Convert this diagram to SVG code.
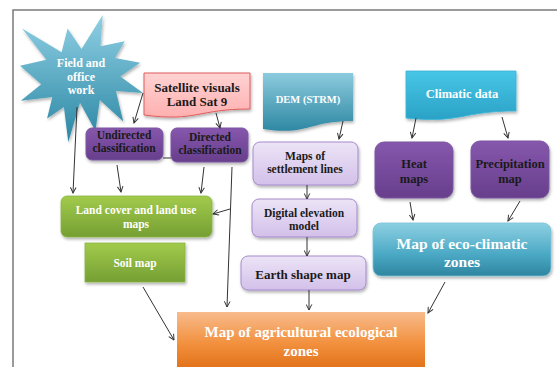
<svg xmlns="http://www.w3.org/2000/svg" width="557" height="367" viewBox="0 0 557 367">
<style>
  text { font-family: "Liberation Serif", "Times New Roman", serif; font-weight: bold; text-anchor: middle; }
  .dk { fill: #1a1a1a; }
  .wt { fill: #ffffff; }
  .conn line, .conn path { stroke: #333333; stroke-width: 1; fill: none; }
  .arr { marker-end: url(#ah); }
</style>
<defs>
  <marker id="ah" viewBox="0 0 10 10" refX="9" refY="5" markerWidth="7" markerHeight="7" orient="auto" markerUnits="userSpaceOnUse">
    <path d="M1,1 L9,5 L1,9" fill="none" stroke="#333333" stroke-width="1.4"/>
  </marker>
  <filter id="sh" x="-10%" y="-10%" width="125%" height="130%">
    <feDropShadow dx="1" dy="2" stdDeviation="1.5" flood-color="#000" flood-opacity="0.3"/>
  </filter>
  <linearGradient id="gStar" x1="0" y1="0" x2="0" y2="1">
    <stop offset="0" stop-color="#8fd0e4"/>
    <stop offset="1" stop-color="#2b86a3"/>
  </linearGradient>
  <linearGradient id="gPink" x1="0" y1="0" x2="0" y2="1">
    <stop offset="0" stop-color="#ffd2d2"/>
    <stop offset="1" stop-color="#ffb0b0"/>
  </linearGradient>
  <linearGradient id="gPurple" x1="0" y1="0" x2="0" y2="1">
    <stop offset="0" stop-color="#8657ad"/>
    <stop offset="1" stop-color="#673e8c"/>
  </linearGradient>
  <linearGradient id="gLav" x1="0" y1="0" x2="0" y2="1">
    <stop offset="0" stop-color="#ece4f6"/>
    <stop offset="1" stop-color="#d3c0ea"/>
  </linearGradient>
  <linearGradient id="gDem" x1="0" y1="0" x2="0" y2="1">
    <stop offset="0" stop-color="#8ccbde"/>
    <stop offset="1" stop-color="#2e88a3"/>
  </linearGradient>
  <linearGradient id="gClim" x1="0" y1="0" x2="0" y2="1">
    <stop offset="0" stop-color="#48c6e6"/>
    <stop offset="1" stop-color="#2aa2c6"/>
  </linearGradient>
  <linearGradient id="gGreen" x1="0" y1="0" x2="0" y2="1">
    <stop offset="0" stop-color="#a2cb4c"/>
    <stop offset="1" stop-color="#759f33"/>
  </linearGradient>
  <linearGradient id="gEco" x1="0" y1="0" x2="0" y2="1">
    <stop offset="0" stop-color="#8dd0e2"/>
    <stop offset="0.6" stop-color="#4aa8c4"/>
    <stop offset="1" stop-color="#2f859f"/>
  </linearGradient>
  <linearGradient id="gOrange" x1="0" y1="0" x2="0" y2="1">
    <stop offset="0" stop-color="#f8bb8c"/>
    <stop offset="0.5" stop-color="#f2913f"/>
    <stop offset="1" stop-color="#de6a10"/>
  </linearGradient>
</defs>

<rect width="557" height="367" fill="#ffffff"/>
<path d="M13,367 V10 H557" fill="none" stroke="#7a7a7a" stroke-width="1.5"/>

<g id="node-field">
  <polygon points="81.5,49.1 102.7,15 100.6,46.3 124.7,41.2 115.1,58 140.1,62.8 120.3,76.6 143,93.1 115.9,91.1 123.3,121.4 99.8,100 95.4,131 80,102.8 68.3,142 63.9,106.9 47.1,118.6 52.3,96.9 20.8,100.8 41.2,84.2 20,65.7 46.3,59.8 22.1,28.5 61.6,52.2 67.6,28.5" fill="url(#gStar)" filter="url(#sh)"/>
  <text class="wt" x="81" y="67" font-size="12">Field and</text>
  <text class="wt" x="81" y="81" font-size="12">office</text>
  <text class="wt" x="81" y="94" font-size="12">work</text>
</g>

<g id="node-satellite">
  <path d="M144,73 H250 V109 C197,109 197,122 144,115 Z" fill="url(#gPink)" stroke="#e05c5c" stroke-width="1" filter="url(#sh)"/>
  <text class="dk" x="197" y="91.5" font-size="13">Satellite visuals</text>
  <text class="dk" x="197" y="105.5" font-size="13">Land Sat 9</text>
</g>

<g id="node-undirected">
  <rect x="86" y="128" width="77" height="32" rx="6" fill="url(#gPurple)" stroke="#7a56a0" filter="url(#sh)"/>
  <text class="dk" x="124" y="139" font-size="11.5">Undirected</text>
  <text class="dk" x="124" y="152" font-size="11.5">classification</text>
</g>

<g id="node-directed">
  <rect x="171" y="128" width="77" height="34" rx="6" fill="url(#gPurple)" stroke="#7a56a0" filter="url(#sh)"/>
  <text class="dk" x="210" y="141" font-size="11.5">Directed</text>
  <text class="dk" x="210" y="154" font-size="11.5">classification</text>
</g>

<g id="node-dem">
  <path d="M263,73 H353 V121 C308,121 308,136 263,129 Z" fill="url(#gDem)" filter="url(#sh)"/>
  <text class="wt" x="308" y="102.5" font-size="10.5">DEM (STRM)</text>
</g>

<g id="node-climatic">
  <path d="M406,71 H516 V111 C461,111 461,124 406,118 Z" fill="url(#gClim)" stroke="#3ab4d8" stroke-width="0.8" filter="url(#sh)"/>
  <text class="wt" x="462" y="97.5" font-size="12.5">Climatic data</text>
</g>

<g id="node-settlement">
  <rect x="253" y="142" width="105" height="43" rx="7" fill="url(#gLav)" stroke="#a58acb" filter="url(#sh)"/>
  <text class="dk" x="305" y="160" font-size="11.5">Maps of</text>
  <text class="dk" x="305" y="173" font-size="11.5">settlement lines</text>
</g>

<g id="node-elevation">
  <rect x="252" y="199" width="105" height="38" rx="7" fill="url(#gLav)" stroke="#a58acb" filter="url(#sh)"/>
  <text class="dk" x="304" y="217" font-size="11.5">Digital elevation</text>
  <text class="dk" x="304" y="230" font-size="11.5">model</text>
</g>

<g id="node-earth">
  <rect x="241" y="256" width="125" height="34" rx="7" fill="url(#gLav)" stroke="#a58acb" filter="url(#sh)"/>
  <text class="dk" x="303" y="278.5" font-size="13">Earth shape map</text>
</g>

<g id="node-heat">
  <rect x="375" y="142" width="78" height="56" rx="9" fill="url(#gPurple)" stroke="#7a56a0" filter="url(#sh)"/>
  <text class="dk" x="414" y="167.5" font-size="12.5">Heat</text>
  <text class="dk" x="414" y="182.5" font-size="12.5">maps</text>
</g>

<g id="node-precip">
  <rect x="471" y="141" width="78" height="57" rx="9" fill="url(#gPurple)" stroke="#7a56a0" filter="url(#sh)"/>
  <text class="dk" x="510" y="167.5" font-size="12.5">Precipitation</text>
  <text class="dk" x="510" y="182.5" font-size="12.5">map</text>
</g>

<g id="node-landcover">
  <rect x="61" y="196" width="151" height="41" rx="6" fill="url(#gGreen)" stroke="#8ab544" stroke-width="0.8" filter="url(#sh)"/>
  <text class="wt" x="136" y="214" font-size="11.5">Land cover and land use</text>
  <text class="wt" x="136" y="228" font-size="11.5">maps</text>
</g>

<g id="node-soil">
  <rect x="85" y="243" width="100" height="39" fill="url(#gGreen)" stroke="#8ab544" stroke-width="0.8" filter="url(#sh)"/>
  <text class="wt" x="135" y="267" font-size="11.5">Soil map</text>
</g>

<g id="node-eco">
  <rect x="373" y="223" width="178" height="53" rx="8" fill="url(#gEco)" stroke="#7cc3d8" stroke-width="0.8" filter="url(#sh)"/>
  <text class="wt" x="462" y="248.5" font-size="15.5">Map of eco-climatic</text>
  <text class="wt" x="462" y="266.5" font-size="15.5">zones</text>
</g>

<g id="node-agri">
  <rect x="177" y="312" width="248" height="62" fill="url(#gOrange)"/>
  <text class="wt" x="301" y="337" font-size="15">Map of agricultural ecological</text>
  <text class="wt" x="301" y="356" font-size="15">zones</text>
</g>

<g id="connectors" class="conn">
  <line class="arr" x1="77" y1="107" x2="73" y2="193"/>
  <line class="arr" x1="143" y1="93" x2="134" y2="123"/>
  <line class="arr" x1="216" y1="113" x2="220" y2="128"/>
  <line x1="163" y1="158" x2="171" y2="158"/>
  <line class="arr" x1="117" y1="165" x2="121" y2="192"/>
  <line class="arr" x1="204" y1="167" x2="201" y2="193"/>
  <line class="arr" x1="232" y1="167" x2="227" y2="307"/>
  <line class="arr" x1="230" y1="209" x2="213" y2="214"/>
  <line class="arr" x1="343" y1="121" x2="339" y2="139"/>
  <line class="arr" x1="307" y1="185" x2="307" y2="199"/>
  <line class="arr" x1="307" y1="237" x2="307" y2="256"/>
  <line class="arr" x1="309" y1="290" x2="309" y2="310"/>
  <line class="arr" x1="416" y1="118" x2="412" y2="138"/>
  <line class="arr" x1="502" y1="117" x2="508" y2="138"/>
  <line class="arr" x1="410" y1="202" x2="413" y2="220"/>
  <line class="arr" x1="520" y1="201" x2="508" y2="221"/>
  <line class="arr" x1="445" y1="282" x2="428" y2="313"/>
  <line class="arr" x1="143" y1="287" x2="174" y2="340"/>
</g>
</svg>
